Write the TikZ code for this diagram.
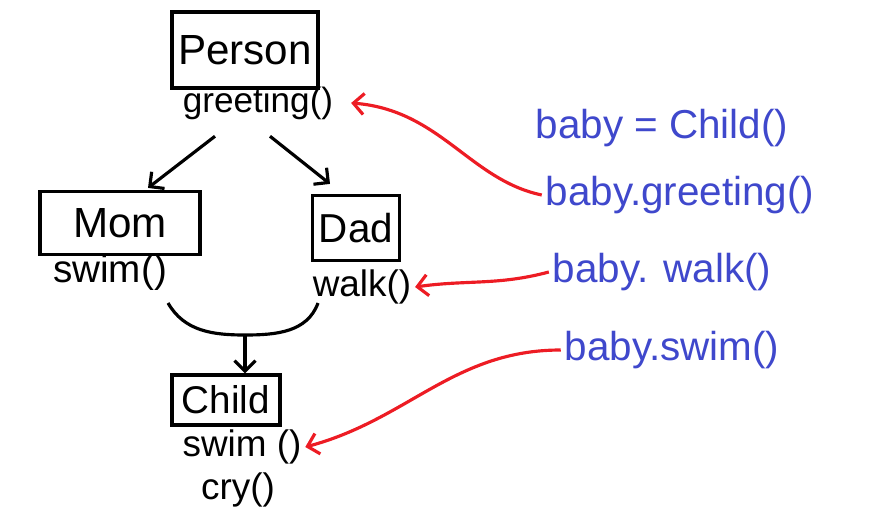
\documentclass[tikz,border=0pt]{standalone}
\usepackage{fontspec}
\setmainfont{Liberation Sans}
\usetikzlibrary{arrows.meta, positioning, calc}
\definecolor{tinta}{HTML}{000000}
\definecolor{azul}{HTML}{3F48CC}
\definecolor{rojo}{HTML}{ED1C24}
\tikzset{
  clase/.style={rectangle, draw=tinta, line width=1.8pt, text centered, inner sep=2pt},
  metodo/.style={font=\fontsize{20}{22}\selectfont, text=tinta, inner sep=2pt},
  codigo/.style={font=\fontsize{23}{25}\selectfont, text=azul, inner sep=2pt},
  herencia/.style={line width=1.8pt, -{Straight Barb[length=6pt,width=12pt]}, color=tinta},
  llamada/.style={line width=1.8pt, -{Straight Barb[length=6pt,width=12pt]}, color=rojo}
}
\begin{document}
\begin{tikzpicture}[x=0.02cm, y=-0.02cm]
  \useasboundingbox (0,0) rectangle (891,520);
  % clases
  \node (person) [clase, minimum width=2.92cm, minimum height=1.52cm, font=\fontsize{24}{26}\selectfont] at (245,50) {Person};
  \node (greet) [metodo] at (258,103) {greeting()};
  \node (mom) [clase, minimum width=3.2cm, minimum height=1.26cm, font=\fontsize{24}{26}\selectfont] at (120,223) {Mom};
  \node (mswim) [metodo, font=\fontsize{22}{24}\selectfont] at (110,272) {swim()};
  \node (dad) [clase, minimum width=1.74cm, minimum height=1.3cm, font=\fontsize{23}{25}\selectfont] at (356,228) {Dad};
  \node (dwalk) [metodo, font=\fontsize{21}{23}\selectfont] at (362,287) {walk()};
  \node (child) [clase, minimum width=2.16cm, minimum height=1.0cm, font=\fontsize{22}{24}\selectfont] at (226,400) {Child};
  \node (cswim) [metodo, font=\fontsize{21}{23}\selectfont] at (242,447) {swim ()};
  \node (ccry) [metodo, font=\fontsize{21}{23}\selectfont] at (238,490) {cry()};
  % codigo
  \node (bnew) [codigo] at (662,128) {baby = Child()};
  \node (bgreet) [codigo] at (680,195) {baby.greeting()};
  \node (bwalk) [codigo] at (662,272) {baby. walk()};
  \node (bswim) [codigo] at (672,350) {baby.swim()};
  % herencia
  \draw [herencia] ([shift={(-43,13)}]greet.south) -- ([shift={(28,-2)}]mom.north);
  \draw [herencia] ([shift={(12,13)}]greet.south) -- ([shift={(-26,-10)}]dad.north);
  \coordinate (mleft) at (168,303);
  \coordinate (dright) at (318,303);
  \coordinate (union) at (245,335);
  \draw [line width=1.8pt, color=tinta] (mleft) to[out=-60,in=180] (union) to[out=0,in=-110] (dright);
  \draw [herencia] (union) -- (union |- child.north);
  % llamadas
  \draw [llamada] (bgreet.west) .. controls (470,180) and (440,110) .. ([xshift=8]greet.east);
  \draw [llamada] (bwalk.west) to[out=195,in=8] (dwalk.east);
  \draw [llamada] (bswim.west) to[out=180,in=15] (cswim.east);
\end{tikzpicture}
\end{document}
